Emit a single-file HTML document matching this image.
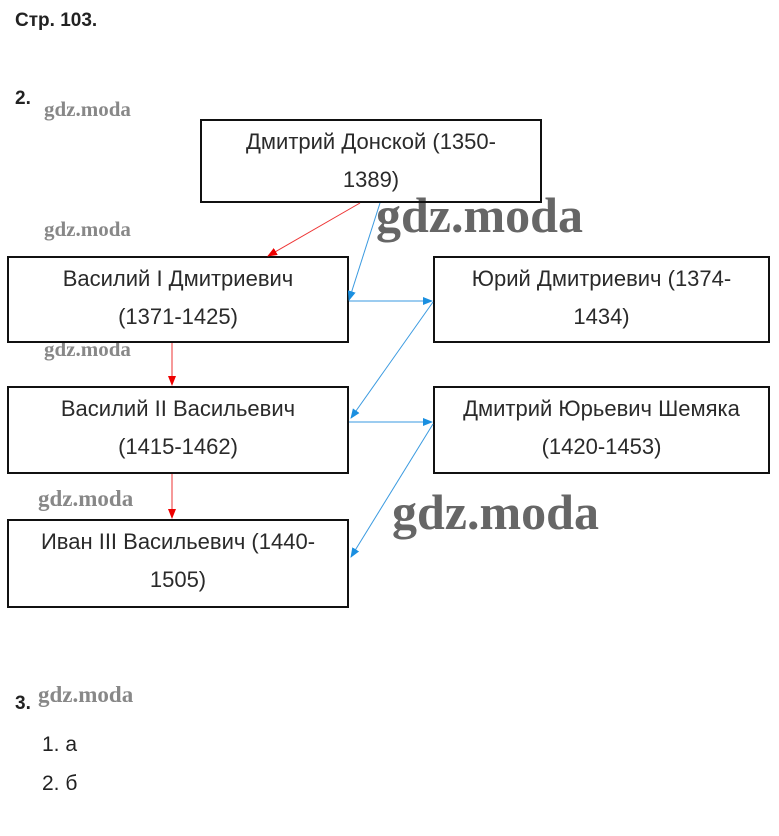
<!DOCTYPE html>
<html><head><meta charset="utf-8"><style>
body{margin:0;width:779px;height:836px;background:#fff;position:relative;font-family:"Liberation Sans",Arial,sans-serif;color:#222;overflow:hidden}
.b{position:absolute;border:2px solid #111;box-sizing:border-box;text-align:center;font-size:22px;line-height:38px;padding-top:2px;color:#2a2a2a}
.t{position:absolute;white-space:nowrap}
.w{position:absolute;font-family:"Liberation Serif",serif;font-weight:bold;color:#888;white-space:nowrap}
</style></head><body>
<div class="t" style="left:15px;top:10px;font-size:19px;font-weight:bold">Стр. 103.</div>
<div class="t" style="left:15px;top:88px;font-size:19px;font-weight:bold">2.</div>
<div class="t" style="left:15px;top:693px;font-size:19px;font-weight:bold">3.</div>
<div class="t" style="left:42px;top:733px;font-size:21px">1. а</div>
<div class="t" style="left:42px;top:772px;font-size:21px">2. б</div>
<div class="w" style="left:44px;top:97px;font-size:21px">gdz.moda</div>
<div class="w" style="left:44px;top:217px;font-size:21px">gdz.moda</div>
<div class="w" style="left:44px;top:337px;font-size:21px">gdz.moda</div>
<div class="w" style="left:38px;top:486px;font-size:23px">gdz.moda</div>
<div class="w" style="left:38px;top:682px;font-size:23px">gdz.moda</div>
<div class="w" style="left:376px;top:186px;font-size:50px;color:#666">gdz.moda</div>
<div class="w" style="left:392px;top:483px;font-size:50px;color:#666">gdz.moda</div>
<div class="b" style="left:200px;top:119px;width:342px;height:84px">Дмитрий Донской (1350-<br>1389)</div>
<div class="b" style="left:7px;top:256px;width:342px;height:87px">Василий I Дмитриевич<br>(1371-1425)</div>
<div class="b" style="left:433px;top:256px;width:337px;height:87px">Юрий Дмитриевич (1374-<br>1434)</div>
<div class="b" style="left:7px;top:386px;width:342px;height:88px">Василий II Васильевич<br>(1415-1462)</div>
<div class="b" style="left:433px;top:386px;width:337px;height:88px">Дмитрий Юрьевич Шемяка<br>(1420-1453)</div>
<div class="b" style="left:7px;top:519px;width:342px;height:89px">Иван III Васильевич (1440-<br>1505)</div>
<svg width="779" height="836" style="position:absolute;left:0;top:0">
<defs>
<marker id="r" markerWidth="10" markerHeight="8" refX="9" refY="4" orient="auto" markerUnits="userSpaceOnUse"><path d="M0,0L10,4L0,8z" fill="#e00"/></marker>
<marker id="bl" markerWidth="10" markerHeight="8" refX="9" refY="4" orient="auto" markerUnits="userSpaceOnUse"><path d="M0,0L10,4L0,8z" fill="#1a8fe0"/></marker>
</defs>
<g stroke="#e33" stroke-width="1" fill="none">
<line x1="360" y1="203" x2="268" y2="256" marker-end="url(#r)"/>
<line x1="172" y1="343" x2="172" y2="385" marker-end="url(#r)"/>
<line x1="172" y1="474" x2="172" y2="518" marker-end="url(#r)"/>
</g>
<g stroke="#3a9ae0" stroke-width="1" fill="none">
<line x1="380" y1="203" x2="349" y2="300" marker-end="url(#bl)"/>
<line x1="349" y1="301" x2="432" y2="301" marker-end="url(#bl)"/>
<line x1="433" y1="302" x2="351" y2="418" marker-end="url(#bl)"/>
<line x1="349" y1="422" x2="432" y2="422" marker-end="url(#bl)"/>
<line x1="433" y1="424" x2="351" y2="557" marker-end="url(#bl)"/>
</g>
</svg>
</body></html>
